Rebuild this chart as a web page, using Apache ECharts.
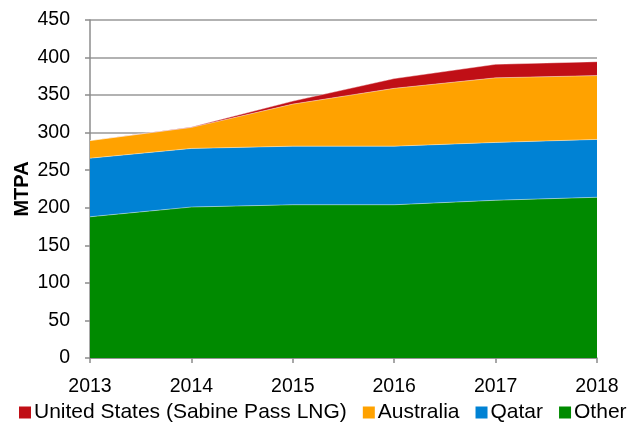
<!DOCTYPE html>
<html>
<head>
<meta charset="utf-8">
<script src="https://cdn.jsdelivr.net/npm/echarts@6/dist/echarts.min.js"></script>
<style>
  html, body { margin: 0; padding: 0; background: #fff; }
  #chart { width: 627px; height: 423px; }
</style>
</head>
<body>
<div id="chart"></div>
<script>
// 年份
const years = ['2013', '2014', '2015', '2016', '2017', '2018'];
// 各来源产能 (MTPA)，自下而上堆叠
const other = [188, 201, 204, 204, 210, 214];
const qatar = [78, 78, 78, 78, 77, 77];
const australia = [23.5, 28, 56, 77, 86, 85];
const unitedStates = [0, 0.5, 4, 13, 18, 18.5];

const font = 'Liberation Sans, Arial, sans-serif';

function area(name, data, color) {
  return {
    name: name,
    type: 'line',
    stack: 'total',
    data: data,
    symbol: 'none',
    lineStyle: { width: 0.8, color: 'rgba(255,255,255,0.5)' },
    itemStyle: { color: color },
    areaStyle: { color: color, opacity: 1 }
  };
}

const chart = echarts.init(document.getElementById('chart'));
chart.setOption({
  animation: false,
  grid: { left: 90, right: 30, top: 20, bottom: 65 },
  legend: {
    data: ['United States (Sabine Pass LNG)', 'Australia', 'Qatar', 'Other'],
    bottom: 0,
    left: 19,
    width: 700,
    padding: 0,
    icon: 'rect',
    itemWidth: 12,
    itemHeight: 12,
    itemGap: 16,
    textStyle: { fontFamily: font, fontSize: 21, color: '#000', padding: [0, 0, 0, -2] }
  },
  xAxis: {
    type: 'category',
    data: years,
    boundaryGap: false,
    axisLine: { lineStyle: { color: '#8c8c8c', width: 1.5 } },
    axisTick: { length: 5, lineStyle: { color: '#8c8c8c', width: 1.5 } },
    axisLabel: { fontFamily: font, fontSize: 19.5, color: '#000', margin: 19 }
  },
  yAxis: {
    type: 'value',
    min: 0,
    max: 450,
    interval: 50,
    name: 'MTPA',
    nameLocation: 'middle',
    nameGap: 58,
    nameMoveOverlap: false,
    nameTextStyle: { fontFamily: font, fontSize: 20, fontWeight: 'bold', color: '#000' },
    axisLine: { show: true, lineStyle: { color: '#8c8c8c', width: 1.5 } },
    axisTick: { show: true, length: 5, lineStyle: { color: '#8c8c8c', width: 1.5 } },
    axisLabel: { fontFamily: font, fontSize: 19.5, color: '#000', margin: 20 },
    splitLine: { lineStyle: { color: '#999', width: 1.5 } }
  },
  series: [
    area('Other', other, '#008a00'),
    area('Qatar', qatar, '#0082d4'),
    area('Australia', australia, '#ffa200'),
    area('United States (Sabine Pass LNG)', unitedStates, '#c00f16')
  ]
});
</script>
</body>
</html>
